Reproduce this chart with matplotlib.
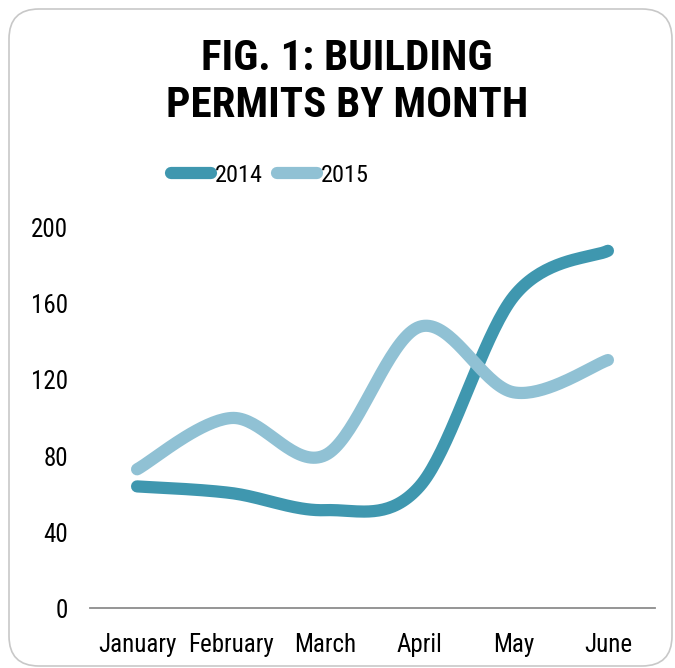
import numpy as np
import matplotlib
matplotlib.use("Agg")
import matplotlib.pyplot as plt
from matplotlib.patches import FancyBboxPatch

plt.rcParams['font.family'] = ['Roboto Condensed', 'DejaVu Sans']

months = ["January", "February", "March", "April", "May", "June"]
series_names = ["2014", "2015"]
values_2014 = [64, 60.5, 51.5, 64, 164, 188]
values_2015 = [73, 100, 80.5, 148, 113.5, 130.5]
yticks = [0, 40, 80, 120, 160, 200]
title = "FIG. 1: BUILDING\nPERMITS BY MONTH"
colors = ["#3F97AF", "#90C1D4"]


def smooth(x, y, n=40):
    x = np.asarray(x, float)
    y = np.asarray(y, float)
    px = np.concatenate([[x[0]], x, [x[-1]]])
    py = np.concatenate([[y[0]], y, [y[-1]]])
    xs, ys = [], []
    t = np.linspace(0, 1, n)
    for i in range(1, len(px) - 2):
        p0x, p0y = px[i], py[i]
        p3x, p3y = px[i + 1], py[i + 1]
        c1x = p0x + (px[i + 1] - px[i - 1]) / 6
        c1y = p0y + (py[i + 1] - py[i - 1]) / 6
        c2x = p3x - (px[i + 2] - px[i]) / 6
        c2y = p3y - (py[i + 2] - py[i]) / 6
        bx = (1 - t) ** 3 * p0x + 3 * (1 - t) ** 2 * t * c1x + 3 * (1 - t) * t ** 2 * c2x + t ** 3 * p3x
        by = (1 - t) ** 3 * p0y + 3 * (1 - t) ** 2 * t * c1y + 3 * (1 - t) * t ** 2 * c2y + t ** 3 * p3y
        xs.append(bx if i == 1 else bx[1:])
        ys.append(by if i == 1 else by[1:])
    return np.concatenate(xs), np.concatenate(ys)


W, H = 675, 668
fig = plt.figure(figsize=(W / 100, H / 100), dpi=100)

# rounded border
border = FancyBboxPatch((9 / 100, 2 / 100), (672 - 9) / 100, (666 - 9) / 100,
                        boxstyle="round,pad=0,rounding_size=0.3",
                        transform=fig.dpi_scale_trans, facecolor="none",
                        edgecolor="#C8C8C8", linewidth=1.2, zorder=-5)
fig.patches.append(border)

ax = fig.add_axes([90 / W, (H - 608) / H, (655 - 90) / W, (608 - 228) / H])
ax.set_facecolor("none")

x = np.arange(len(months))
for name, vals, c in zip(series_names, [values_2014, values_2015], colors):
    sx, sy = smooth(x, vals)
    ax.plot(sx, sy, color=c, lw=8.8, solid_capstyle="round", solid_joinstyle="round", label=name)

ax.set_xlim(-0.5, len(months) - 0.5)
ax.set_ylim(0, 200)
ax.set_xticks(x)
ax.set_xticklabels(months)
ax.set_yticks(yticks)
ax.set_yticklabels([str(v) for v in yticks])
ax.tick_params(axis="both", length=0, labelsize=18, colors="black")
ax.tick_params(axis="x", pad=18)
ax.tick_params(axis="y", pad=15.5)
for s in ["top", "right", "left"]:
    ax.spines[s].set_visible(False)
ax.spines["bottom"].set_color("#8C8C8C")
ax.spines["bottom"].set_linewidth(1.3)

fig.text(347 / W, (H - 82) / H, title, ha="center", va="center", fontsize=31,
         fontweight="bold", linespacing=1.16, color="black")

fig.legend(loc="center", bbox_to_anchor=(270 / W, (H - 175) / H), ncol=2, frameon=False,
           fontsize=17.5, handlelength=1.65, handletextpad=0.15, columnspacing=0.6)

fig.savefig("out.png", dpi=100)
